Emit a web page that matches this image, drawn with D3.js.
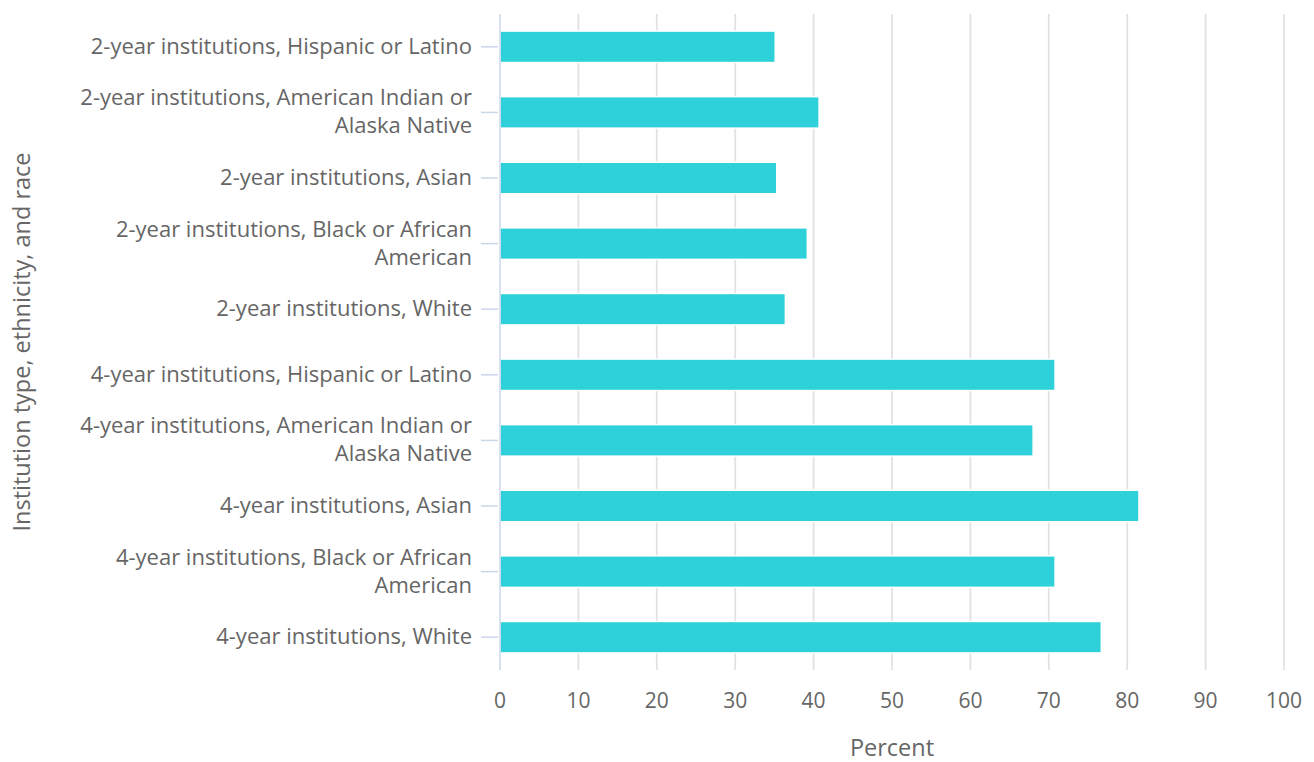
<!DOCTYPE html>
<meta charset="utf-8" />
<script src="https://d3js.org/d3.v7.min.js"></script>
<style>
    body { margin: 0; background: #fff; }
    text { font-family: 'Open Sans', sans-serif; }
</style>
<div id="chart"></div>
<script>
    // categories, top to bottom
    const categories = [
        '2-year institutions, Hispanic or Latino',
        '2-year institutions, American Indian or Alaska Native',
        '2-year institutions, Asian',
        '2-year institutions, Black or African American',
        '2-year institutions, White',
        '4-year institutions, Hispanic or Latino',
        '4-year institutions, American Indian or Alaska Native',
        '4-year institutions, Asian',
        '4-year institutions, Black or African American',
        '4-year institutions, White'
    ]
    // wrapped label lines
    const labelLines = [
        ['2-year institutions, Hispanic or Latino'],
        ['2-year institutions, American Indian or', 'Alaska Native'],
        ['2-year institutions, Asian'],
        ['2-year institutions, Black or African', 'American'],
        ['2-year institutions, White'],
        ['4-year institutions, Hispanic or Latino'],
        ['4-year institutions, American Indian or', 'Alaska Native'],
        ['4-year institutions, Asian'],
        ['4-year institutions, Black or African', 'American'],
        ['4-year institutions, White']
    ]
    const percents = [35.1, 40.7, 35.3, 39.2, 36.4, 70.8, 68.0, 81.5, 70.8, 76.7]
    const xTicks = [0, 10, 20, 30, 40, 50, 60, 70, 80, 90, 100]

    const W = 1314, H = 762
    const margin = { top: 14, right: 30, bottom: 92, left: 500 }
    const width = W - margin.left - margin.right
    const height = H - margin.top - margin.bottom

    const svg = d3.select('#chart').append('svg')
        .attr('width', W).attr('height', H)
    const g = svg.append('g')
        .attr('transform', `translate(${margin.left},${margin.top})`)

    const x = d3.scaleLinear().domain([0, 100]).range([0, width])
    const y = d3.scaleBand().domain(categories).range([0, height]).paddingInner(0.52).paddingOuter(0.26)

    // gridlines
    g.selectAll('.grid')
        .data(xTicks.slice(1))
        .join('line')
        .attr('x1', d => x(d)).attr('x2', d => x(d))
        .attr('y1', 0).attr('y2', height)
        .attr('stroke', '#e2e2e2').attr('stroke-width', 1.8)

    // bars
    g.selectAll('.bar')
        .data(categories)
        .join('rect')
        .attr('x', x(0))
        .attr('y', d => y(d))
        .attr('width', (d, i) => x(percents[i]) - x(0))
        .attr('height', y.bandwidth())
        .attr('fill', '#2ed1d9')
        .attr('stroke', '#ffffff').attr('stroke-width', 1.5)

    // y axis line and ticks
    g.append('line')
        .attr('x1', 0).attr('x2', 0).attr('y1', 0).attr('y2', height)
        .attr('stroke', '#ccd6eb').attr('stroke-width', 1.5)
    g.selectAll('.ytick')
        .data(categories)
        .join('line')
        .attr('x1', -19).attr('x2', -2)
        .attr('y1', d => y(d) + y.bandwidth() / 2)
        .attr('y2', d => y(d) + y.bandwidth() / 2)
        .attr('stroke', '#ccd6eb').attr('stroke-width', 1.5)

    // y labels
    g.selectAll('.ylabel')
        .data(categories)
        .join('text')
        .attr('text-anchor', 'end')
        .attr('fill', '#666666')
        .attr('font-size', '22px')
        .each(function (d, i) {
            const lines = labelLines[i]
            const cy = y(d) + y.bandwidth() / 2
            const lh = 28
            const y0 = cy - (lines.length - 1) * lh / 2 + 7
            lines.forEach((t, j) => {
                d3.select(this).append('tspan')
                    .attr('x', -28).attr('y', y0 + j * lh).text(t)
            })
        })

    // x tick labels
    g.selectAll('.xlabel')
        .data(xTicks)
        .join('text')
        .attr('x', d => x(d)).attr('y', height + 38)
        .attr('text-anchor', 'middle')
        .attr('fill', '#666666')
        .attr('font-size', '21px')
        .text(d => d)

    // axis titles
    svg.append('text')
        .attr('x', margin.left + width / 2).attr('y', 756)
        .attr('text-anchor', 'middle')
        .attr('fill', '#666666').attr('font-size', '23.5px')
        .text('Percent')
    svg.append('text')
        .attr('transform', `translate(30,${margin.top + height / 2}) rotate(-90)`)
        .attr('text-anchor', 'middle')
        .attr('fill', '#666666').attr('font-size', '23.5px')
        .text('Institution type, ethnicity, and race')
</script>
